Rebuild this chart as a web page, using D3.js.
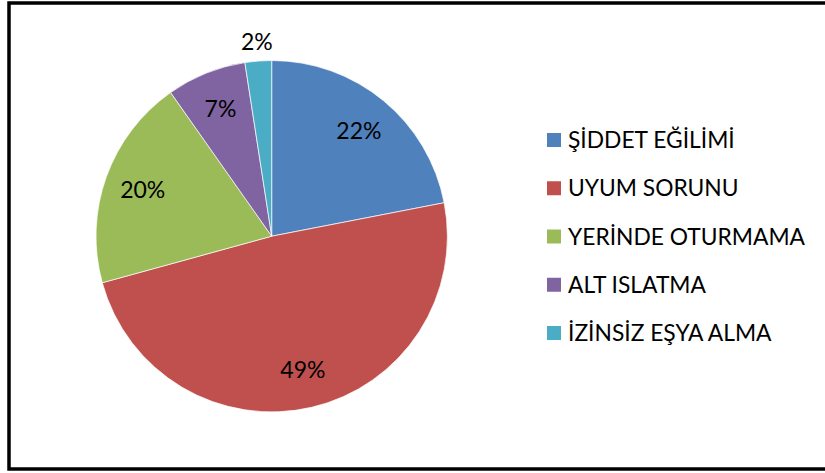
<!DOCTYPE html>
<html>
<head>
<meta charset="utf-8">
<script src="https://cdn.jsdelivr.net/npm/d3@7"></script>
<style>
  body { margin: 0; background: #fff; }
  text { font-family: Lato, "Open Sans", sans-serif; fill: #000; }
</style>
</head>
<body>
<svg width="825" height="473"></svg>
<script>
// **** Chart data ****
var categories = ['ŞİDDET EĞİLİMİ', 'UYUM SORUNU', 'YERİNDE OTURMAMA', 'ALT ISLATMA', 'İZİNSİZ EŞYA ALMA'];
var counts = [9, 20, 8, 3, 1];
var colors = ['#4F81BD', '#C0504D', '#9BBB59', '#8064A2', '#4BACC6'];

var svg = d3.select('svg');

// outer frame
svg.append('rect')
    .attr('x', 9).attr('y', 3)
    .attr('width', 830).attr('height', 466)
    .attr('fill', 'none')
    .attr('stroke', '#000')
    .attr('stroke-width', 3.5);

var cx = 271.7, cy = 236.2, radius = 175.7;
var total = d3.sum(counts);

var pie = d3.pie().sort(null).value(function(d){ return d; });
var arcs = pie(counts);
var arc = d3.arc().innerRadius(0).outerRadius(radius);

var g = svg.append('g').attr('transform', 'translate(' + cx + ',' + cy + ')');

g.selectAll('.slice')
    .data(arcs)
    .enter()
    .append('path')
    .attr('class', 'slice')
    .attr('d', arc)
    .attr('fill', function(d, i){ return colors[i]; })
    .attr('stroke', '#fff')
    .attr('stroke-width', 0.7);

// percent labels: inside for normal slices, outside for very small
var fmt = d3.format('.0%');
g.selectAll('.pct')
    .data(arcs)
    .enter()
    .append('text')
    .attr('class', 'pct')
    .attr('text-anchor', 'middle')
    .attr('dy', '0.35em')
    .style('font-size', '23px')
    .attr('transform', function(d){
        var share = d.value / total;
        var r = share < 0.05 ? radius + 19 : radius * 0.78;
        var a = (d.startAngle + d.endAngle) / 2;
        return 'translate(' + (r * Math.sin(a)) + ',' + (-r * Math.cos(a)) + ')';
    })
    .text(function(d){ return fmt(d.value / total); });

// legend
var legendY = d3.scalePoint().domain(categories).range([140, 333]);

var legend = svg.selectAll('.legend')
    .data(categories)
    .enter()
    .append('g')
    .attr('class', 'legend')
    .attr('transform', function(d){ return 'translate(547,' + legendY(d) + ')'; });

legend.append('rect')
    .attr('x', 0).attr('y', -7)
    .attr('width', 14).attr('height', 14)
    .attr('fill', function(d, i){ return colors[i]; });

legend.append('text')
    .attr('x', 21)
    .attr('dy', '0.36em')
    .style('font-size', '22.8px')
    .text(function(d){ return d; });
</script>
</body>
</html>
